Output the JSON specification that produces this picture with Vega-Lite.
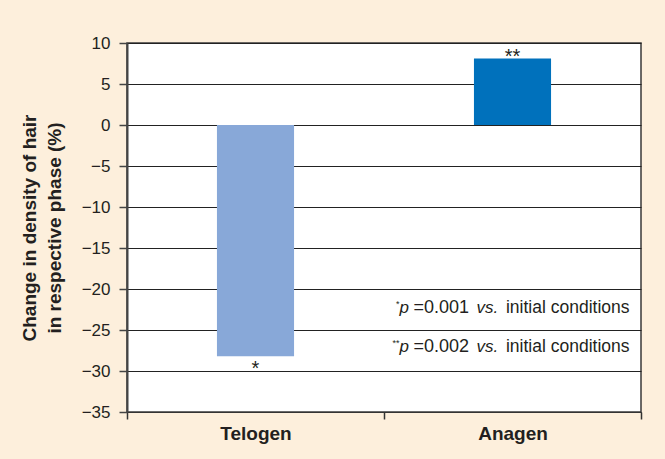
{
  "$schema": "https://vega.github.io/schema/vega-lite/v6.json",
  "width": 514,
  "height": 369,
  "autosize": {"type": "none"},
  "padding": {"left": 127, "top": 43, "right": 24, "bottom": 47},
  "background": "#fdefdc",
  "config": {
    "font": "Liberation Sans",
    "view": {"fill": "white", "stroke": "#3a3a3a", "strokeWidth": 1.5},
    "axis": {"labelColor": "#231f20", "titleColor": "#231f20"}
  },
  "datasets": {
    "bars": [
      {"phase": "Telogen", "change": -28.2, "sig": "*"},
      {"phase": "Anagen", "change": 8.1, "sig": "**"}
    ],
    "notes": [
      {"stars": "*", "pval": "=0.001", "y": -22.9},
      {"stars": "**", "pval": "=0.002", "y": -27.7}
    ]
  },
  "layer": [
    {
      "data": {"name": "bars"},
      "mark": {"type": "bar", "width": {"band": 0.3}},
      "encoding": {
        "x": {
          "field": "phase", "type": "nominal", "sort": ["Telogen", "Anagen"],
          "scale": {"paddingInner": 0, "paddingOuter": 0},
          "axis": {
            "title": null, "labelAngle": 0, "labelFontSize": 19, "labelFontWeight": "bold",
            "tickBand": "extent", "tickSize": 7, "tickColor": "#333", "tickWidth": 1.5,
            "domainColor": "#333", "domainWidth": 1, "labelPadding": 5, "grid": false
          }
        },
        "y": {
          "field": "change", "type": "quantitative",
          "scale": {"domain": [-35, 10], "nice": false},
          "axis": {
            "values": [-35, -30, -25, -20, -15, -10, -5, 0, 5, 10],
            "title": ["Change in density of hair", "in respective phase (%)"],
            "titleFontSize": 19, "titleFontWeight": "bold", "titleLineHeight": 25,
            "titlePadding": 17,
            "labelFontSize": 17, "labelPadding": 9, "tickSize": 8, "tickColor": "#444",
            "tickWidth": 1.5, "domainColor": "#444", "domainWidth": 2,
            "grid": true, "gridColor": "#222", "gridWidth": 1, "gridOpacity": 1
          }
        },
        "color": {
          "field": "phase", "type": "nominal",
          "scale": {"domain": ["Telogen", "Anagen"], "range": ["#88a8d8", "#0071bc"]},
          "legend": null
        }
      }
    },
    {
      "data": {"name": "bars"},
      "transform": [{"filter": "datum.change < 0"}],
      "mark": {"type": "text", "baseline": "top", "dy": 3, "fontSize": 20, "color": "#231f20"},
      "encoding": {
        "x": {"field": "phase", "type": "nominal", "sort": ["Telogen", "Anagen"]},
        "y": {"field": "change", "type": "quantitative"},
        "text": {"field": "sig"}
      }
    },
    {
      "data": {"name": "bars"},
      "transform": [{"filter": "datum.change > 0"}],
      "mark": {"type": "text", "baseline": "bottom", "dy": 8, "fontSize": 20, "color": "#231f20"},
      "encoding": {
        "x": {"field": "phase", "type": "nominal", "sort": ["Telogen", "Anagen"]},
        "y": {"field": "change", "type": "quantitative"},
        "text": {"field": "sig"}
      }
    },
    {
      "data": {"name": "notes"},
      "mark": {"type": "text", "align": "right", "baseline": "alphabetic", "dx": -113, "dy": -6, "fontSize": 9, "color": "#231f20"},
      "encoding": {
        "x": {"datum": "Anagen"},
        "y": {"field": "y", "type": "quantitative"},
        "text": {"field": "stars"}
      }
    },
    {
      "data": {"name": "notes"},
      "mark": {"type": "text", "align": "left", "baseline": "alphabetic", "dx": -113, "fontSize": 17, "fontStyle": "italic", "color": "#231f20", "text": "p"},
      "encoding": {
        "x": {"datum": "Anagen"},
        "y": {"field": "y", "type": "quantitative"}
      }
    },
    {
      "data": {"name": "notes"},
      "mark": {"type": "text", "align": "left", "baseline": "alphabetic", "dx": -99, "fontSize": 18, "color": "#231f20"},
      "encoding": {
        "x": {"datum": "Anagen"},
        "y": {"field": "y", "type": "quantitative"},
        "text": {"field": "pval"}
      }
    },
    {
      "data": {"name": "notes"},
      "mark": {"type": "text", "align": "left", "baseline": "alphabetic", "dx": -36, "fontSize": 17, "fontStyle": "italic", "color": "#231f20", "text": "vs."},
      "encoding": {
        "x": {"datum": "Anagen"},
        "y": {"field": "y", "type": "quantitative"}
      }
    },
    {
      "data": {"name": "notes"},
      "mark": {"type": "text", "align": "right", "baseline": "alphabetic", "dx": 117, "fontSize": 17.5, "color": "#231f20", "text": "initial conditions"},
      "encoding": {
        "x": {"datum": "Anagen"},
        "y": {"field": "y", "type": "quantitative"}
      }
    }
  ]
}
